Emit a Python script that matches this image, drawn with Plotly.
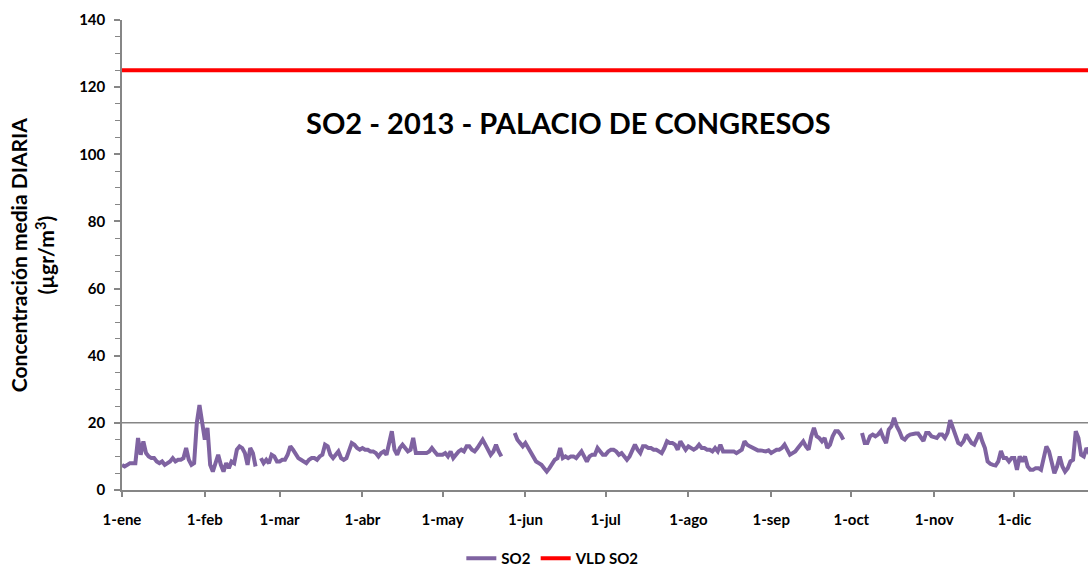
import plotly.graph_objects as go
import pandas as pd

# Daily mean SO2 (µg/m³), 2013, Palacio de Congresos (None = missing day)
jan = [7.5, 7, 7.5, 8, 8, 8, 15.5, 10.5, 14.5, 11, 10, 9.5, 9.5, 8.5, 8, 8.5, 7.5, 8, 8.5, 9.5,
       8.5, 9, 9, 9.5, 12.5, 9, 7.5, 8, 20, 25.3, 19]
feb = [15, 18.5, 7.5, 5.5, 8, 10.5, 7.5, 5.5, 8, 6.5, 8.5, 8, 12, 13, 12.5, 11, 7.5, 12.5, 11, 7,
       None, 9.5, 8, 9, 8, 10.5, 10, 8.5]
mar = [8.5, 9, 9, 10.5, 13, 12, 10.5, 9.5, 9, 8.5, 8, 9, 9.5, 9.5, 9, 10, 10.5, 13.5, 13, 10.5,
       9.5, 10.5, 11.5, 9.5, 9, 9.5, 11.5, 14, 13.5, 12.5, 12]
apr = [12.5, 12, 12, 11.5, 11.5, 11, 10, 11, 11.5, 10.5, 14, 17.5, 12, 10.5, 12.5, 13.5, 12.5, 11.5,
       12, 15.5, 11, 11, 11, 11, 11, 11.5, 12.5, 11.5, 10.5, 10.5]
may = [10.5, 11, 10, 11.5, 9.5, 10.5, 11.5, 12, 11.5, 13, 13, 12, 11.5, 12.5, 14, 15, 13.5, 12, 10.5,
       11.5, 13.5, 11.5, 10, None, None, None, None, 17, 15, 14, 13]
jun = [14, 12.5, 11, 9.5, 8.5, 8, 7.5, 6.5, 5.5, 6.5, 8, 9, 9.5, 12.5, 9.5, 10, 9.5, 10, 10, 9.5,
       10.5, 11.5, 10, 8.5, 10, 10.5, 10.5, 12.5, 11.5, 10.5]
jul = [10.5, 11.5, 12, 12, 11.5, 10.5, 11, 10, 9, 10, 12, 13.5, 12, 11, 13, 13, 12.5, 12.5, 12,
       12, 11.5, 11, 12.5, 14.5, 14, 14, 13.5, 12, 14.5, 13]
aug = [12, 13, 12.5, 12, 12.5, 13.5, 12.5, 12.5, 12, 12, 11.5, 12.5, 11.5, 13.5, 11.5, 11.5, 11.5,
       11.5, 11.5, 11, 11.5, 12, 14.5, 13.5, 13, 12.5, 12, 11.8, 11.8, 11.5, 11.5]
sep = [11.8, 11, 11.5, 12, 12, 12.5, 13.5, 12, 10.5, 11, 11.5, 12.5, 13.5, 14.5, 13, 12, 16, 18.5,
       16, 15.5, 14.5, 15.5, 12.5, 13.5, 16, 17.5, 17.5, 16.5, 15, None]
oct_ = [None, None, None, None, None, 17, 14, 14, 16, 16.5, 16, 16.5, 17.5, 15.5, 14, 18, 19, 21.5,
        19, 17.5, 15.5, 15, 16, 16.5, 16.8, 16.8, 16.8, 15.5, 14.6, 17, 17]
nov = [16, 15.8, 15.5, 16.5, 16.5, 15.5, 17, 20.8, 18.5, 15.5, 14, 13.5, 14.5, 16.5, 15, 14, 13.5,
       15.5, 17, 14.5, 12.5, 8.5, 7.8, 7.5, 7.3, 8.5, 11.6, 9.5, 9.5, 8.5]
dec = [9.5, 9.5, 6, 10, 8.5, 10, 7, 6, 6, 6.5, 6.5, 6, 9.5, 13, 11.5, 7.5, 5, 7, 10, 7,
       5.5, 6.5, 8.5, 9, 17.5, 15.5, 10.5, 10, 12.5, 11, 11]

VLD_LIMIT = 125
GRID_LEVEL = 20

month_ticks = ["2013-01-01", "2013-02-01", "2013-03-01", "2013-04-01", "2013-05-01", "2013-06-01",
               "2013-07-01", "2013-08-01", "2013-09-01", "2013-10-01", "2013-11-01", "2013-12-01"]
month_labels = ["1-ene", "1-feb", "1-mar", "1-abr", "1-may", "1-jun",
                "1-jul", "1-ago", "1-sep", "1-oct", "1-nov", "1-dic"]

so2 = jan + feb + mar + apr + may + jun + jul + aug + sep + oct_ + nov + dec
dates = pd.date_range("2013-01-01", periods=len(so2), freq="D")
vld = [VLD_LIMIT] * len(so2)

FONT = "Lato"
GRAY = "#868686"

fig = go.Figure()
fig.add_trace(go.Scatter(x=dates, y=so2, mode="lines", name="SO2", connectgaps=False,
                         line=dict(color="#7F63A1", width=4)))
fig.add_trace(go.Scatter(x=dates, y=vld, mode="lines", name="VLD SO2",
                         line=dict(color="#FF0000", width=4)))

fig.add_shape(type="line", xref="paper", x0=0, x1=1, yref="y", y0=GRID_LEVEL, y1=GRID_LEVEL,
              line=dict(color=GRAY, width=1.5), layer="below")

fig.update_layout(
    width=1088, height=575,
    margin=dict(l=122, r=0, t=20, b=85, autoexpand=False),
    paper_bgcolor="white", plot_bgcolor="white",
    font=dict(family=FONT, color="black"),
    showlegend=True,
    legend=dict(orientation="h", x=0.446, xanchor="center",
                yref="container", y=0.0, yanchor="bottom",
                font=dict(family=FONT, size=15, weight=700, color="black")),
    annotations=[
        dict(text="SO2 - 2013 - PALACIO DE CONGRESOS", xref="paper", yref="paper",
             x=0.462, y=0.781, xanchor="center", yanchor="middle", showarrow=False,
             font=dict(family=FONT, size=29, weight=700, color="black")),
        dict(text="Concentración media DIARIA<br>(µgr/m<sup>3</sup>)", xref="paper", yref="paper",
             x=-0.093, y=0.5, xanchor="center", yanchor="middle", showarrow=False, textangle=-90,
             font=dict(family=FONT, size=21, weight=700, color="black")),
    ],
)

fig.update_xaxes(type="date", range=["2013-01-01", "2013-12-28 14:00"],
                 tickmode="array", tickvals=month_ticks, ticktext=month_labels,
                 showgrid=False, zeroline=False, showline=True, linecolor=GRAY, linewidth=1.5,
                 ticks="outside", ticklen=5, tickcolor=GRAY, tickwidth=1.5,
                 ticklabelstandoff=10,
                 tickfont=dict(family=FONT, size=15, weight=700, color="black"))
fig.update_yaxes(range=[0, 140], dtick=20, showgrid=False, zeroline=False,
                 showline=True, linecolor=GRAY, linewidth=1.5,
                 ticks="outside", ticklen=6, tickcolor=GRAY, tickwidth=1.5,
                 minor=dict(dtick=5, ticks="outside", ticklen=5, tickcolor=GRAY, tickwidth=1),
                 ticklabelstandoff=6,
                 tickfont=dict(family=FONT, size=15, weight=700, color="black"))

fig.write_html("out.html", config={"displayModeBar": False},
               post_script="document.body.style.margin='0';")
